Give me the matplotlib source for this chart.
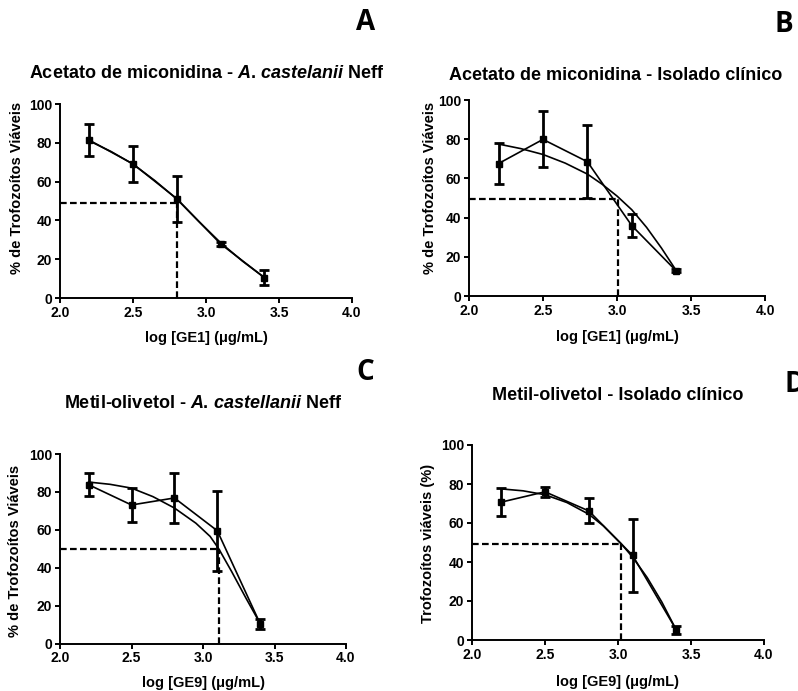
import matplotlib
matplotlib.use("Agg")
import matplotlib.pyplot as plt

plt.rcParams["font.family"] = ["Liberation Sans", "DejaVu Sans"]
plt.rcParams["font.weight"] = "bold"
plt.rcParams["mathtext.fontset"] = "custom"
plt.rcParams["mathtext.rm"] = "Liberation Sans:bold"
plt.rcParams["mathtext.it"] = "Liberation Sans:italic:bold"

# log concentration of the tested points (same for all panels)
log_conc = [2.2, 2.5, 2.8, 3.1, 3.4]

# A - acetato de miconidina, A. castellanii Neff
a_mean = [81.4, 69.1, 51.2, 27.9, 10.5]
a_err = [8.4, 9.5, 11.8, 1.0, 4.0]
a_fit_x = [2.2, 2.35, 2.5, 2.65, 2.8, 2.95, 3.1, 3.25, 3.4]
a_fit_y = [81.0, 75.5, 69.0, 60.5, 51.0, 39.5, 28.5, 19.0, 10.5]
a_ic50 = 2.8
a_half = 49.0

# B - acetato de miconidina, isolado clinico
b_mean = [67.6, 79.9, 68.5, 35.9, 12.8]
b_err = [10.6, 14.3, 18.6, 6.0, 0.8]
b_fit_x = [2.2, 2.35, 2.5, 2.65, 2.8, 2.9, 3.0, 3.1, 3.2, 3.3, 3.4]
b_fit_y = [77.5, 75.2, 72.2, 67.8, 62.2, 57.0, 51.0, 44.0, 35.0, 24.5, 13.0]
b_ic50 = 3.01
b_half = 49.5

# C - metil-olivetol, A. castellanii Neff
c_mean = [83.8, 73.1, 76.8, 59.5, 10.4]
c_err = [6.2, 8.8, 13.2, 21.0, 2.5]
c_fit_x = [2.2, 2.35, 2.5, 2.65, 2.8, 2.95, 3.05, 3.11, 3.2, 3.3, 3.4]
c_fit_y = [85.2, 84.0, 82.0, 77.5, 71.5, 63.5, 56.5, 50.0, 38.0, 24.0, 10.5]
c_ic50 = 3.11
c_half = 49.8

# D - metil-olivetol, isolado clinico
d_mean = [70.7, 76.0, 66.2, 43.4, 5.1]
d_err = [7.0, 2.6, 6.4, 18.6, 2.0]
d_fit_x = [2.2, 2.35, 2.5, 2.65, 2.8, 2.9, 3.02, 3.1, 3.2, 3.3, 3.4]
d_fit_y = [77.5, 76.5, 74.5, 70.5, 64.5, 58.5, 49.5, 42.5, 32.0, 19.5, 5.0]
d_ic50 = 3.02
d_half = 49.4

W, H = 798, 691


def px_rect(x0, x1, ytop, ybot):
    return [x0 / W, 1 - ybot / H, (x1 - x0) / W, (ybot - ytop) / H]


def panel(fig, rect, mean, err, fit_x, fit_y, ic50, half, xlabel, ylabel,
          ylab_pos, xlab_y):
    ax = fig.add_axes(rect)
    ax.plot(fit_x, fit_y, color="black", lw=1.2, zorder=3)
    ax.errorbar(log_conc, mean, yerr=err, color="black", lw=1.2,
                elinewidth=2.0, capsize=3.5, capthick=2.0, marker="s",
                markersize=5, zorder=4, clip_on=False)
    ax.plot([2.0, ic50], [half, half], color="black", lw=1.6,
            ls=(0, (3, 1.5)), zorder=2)
    ax.plot([ic50, ic50], [0, half], color="black", lw=1.6,
            ls=(0, (3, 1.5)), zorder=2)

    ax.set_xlim(2.0, 4.0)
    ax.set_ylim(0, 100)
    ax.set_xticks([2.0, 2.5, 3.0, 3.5, 4.0])
    ax.set_xticklabels(["2.0", "2.5", "3.0", "3.5", "4.0"])
    ax.set_yticks([0, 20, 40, 60, 80, 100])
    for s in ("top", "right"):
        ax.spines[s].set_visible(False)
    for s in ("left", "bottom"):
        ax.spines[s].set_linewidth(1.4)
    ax.tick_params(width=1.4, length=3.5, labelsize=10, pad=2)
    for lab in ax.get_xticklabels() + ax.get_yticklabels():
        lab.set_fontweight("bold")

    ax.set_xlabel(xlabel, fontsize=10.5, fontweight="bold")
    ax.set_ylabel(ylabel, fontsize=10.5, fontweight="bold")
    ax.xaxis.set_label_coords(0.5, xlab_y)
    ax.yaxis.set_label_coords(*ylab_pos)
    return ax


fig = plt.figure(figsize=(W / 100, H / 100), dpi=100)

ylab = "% de Trofozoítos Viáveis"
panel(fig, px_rect(60, 352, 104, 298), a_mean, a_err, a_fit_x, a_fit_y,
      a_ic50, a_half, "log [GE1] (μg/mL)", ylab, (-0.123, 0.567), -0.17)
panel(fig, px_rect(469, 765, 100, 296), b_mean, b_err, b_fit_x, b_fit_y,
      b_ic50, b_half, "log [GE1] (μg/mL)", ylab, (-0.108, 0.553), -0.173)
panel(fig, px_rect(60, 346, 454, 643.5), c_mean, c_err, c_fit_x, c_fit_y,
      c_ic50, c_half, "log [GE9] (μg/mL)", ylab, (-0.133, 0.49), -0.171)
panel(fig, px_rect(472, 764, 445, 640), d_mean, d_err, d_fit_x, d_fit_y,
      d_ic50, d_half, "log [GE9] (μg/mL)", "Trofozoítos viáveis (%)",
      (-0.127, 0.497), -0.18)

# panel titles
titles = [
    (207, 73, r"Acetato de miconidina - $\mathit{A.\,castelanii}$ Neff"),
    (616, 75, "Acetato de miconidina - Isolado clínico"),
    (203, 403, r"Metil-olivetol - $\mathit{A.\,castellanii}$ Neff"),
    (618, 395, "Metil-olivetol - Isolado clínico"),
]
for x, y, t in titles:
    fig.text(x / W, 1 - y / H, t, ha="center", va="center", fontsize=13,
             fontweight="bold")

# panel letters
letters = [(366, 22, "A"), (784, 24, "B"), (365, 373, "C"), (795, 385, "D")]
for x, y, t in letters:
    fig.text(x / W, 1 - y / H, t, ha="center", va="center", fontsize=20,
             fontweight="bold", family=["Open Sans", "DejaVu Sans"])

fig.savefig("out.png", dpi=100)
